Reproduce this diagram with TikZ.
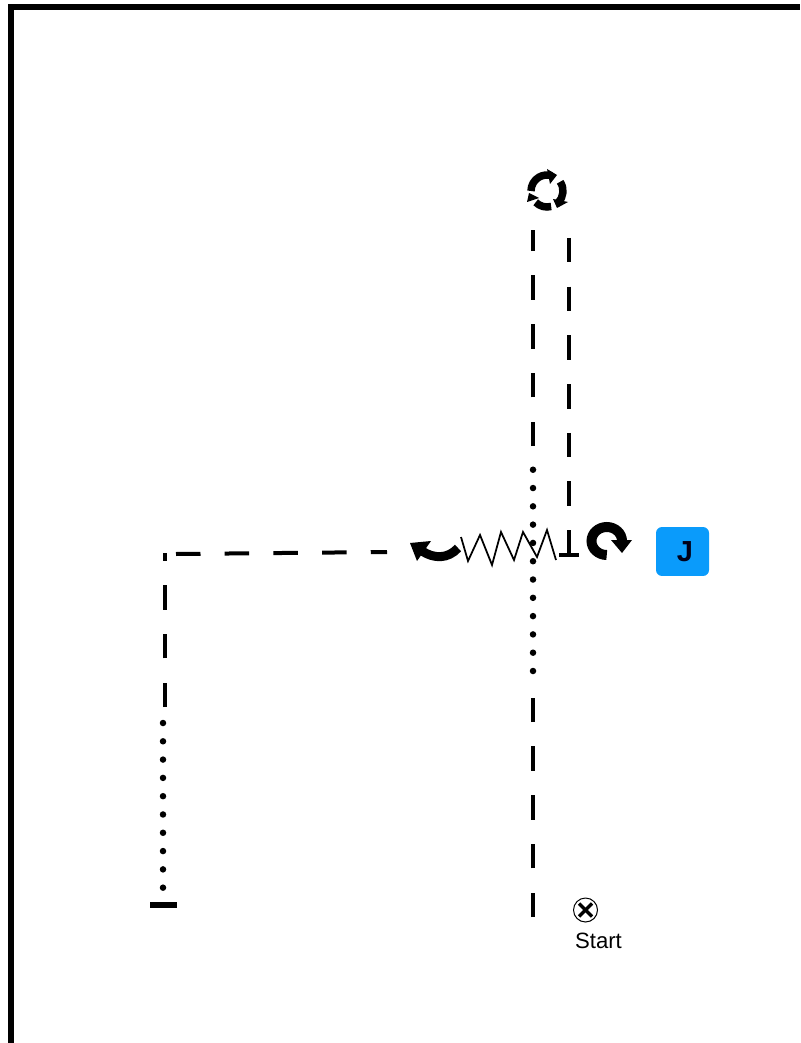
\documentclass[tikz,border=0pt]{standalone}
\usepackage{fontspec}
\setmainfont{Liberation Sans}
\usepackage{xcolor}
\usetikzlibrary{calc}
\definecolor{jumpblue}{HTML}{0A9BFB}
\tikzset{
    walk/.style={line width=0.08cm, dash pattern=on 0.49cm off 0.484cm},
    tiptoe/.style={line width=0.13cm, line cap=round, dash pattern=on 0cm off 0.366cm},
    turn/.style={line width=0.18cm},
    spin/.style={line width=0.15cm},
}
\begin{document}
\begin{tikzpicture}[x=0.02cm, y=-0.02cm, font=\small]
    \useasboundingbox (0, 0) rectangle (800, 1043);

    % Frame
    \draw[line width=0.12cm] (11, 1043) -- (11, 7) -- (800, 7);

    % Named points of the path
    \coordinate (base) at (533, 917);
    \coordinate (stepa) at (533, 697);
    \coordinate (dota) at (533, 671);
    \coordinate (dotb) at (533, 469);
    \coordinate (stepb) at (533, 446);
    \coordinate (top) at (533, 230);
    \coordinate (backtop) at (569, 238);
    \coordinate (backlow) at (569, 506);
    \coordinate (stema) at (569, 530);
    \coordinate (stemb) at (569, 555);
    \coordinate (leftend) at (387, 552);
    \coordinate (cornerb) at (176, 554);
    \coordinate (corner) at (165, 553);
    \coordinate (leftlow) at (165, 707);
    \coordinate (dotc) at (163, 723);
    \coordinate (dotd) at (163, 889);

    % Dashes and dots
    \draw[walk] (base) -- (stepa);
    \draw[tiptoe] (dota) -- (dotb);
    \draw[walk] (stepb) -- (top);
    \draw[walk] (backtop) -- (backlow);
    \draw[line width=0.08cm] (stema) -- (stemb);
    \draw[line width=0.08cm] (559, 555) -- (579, 555);
    \draw[walk] (cornerb) -- (leftend);
    \draw[walk] (leftlow) -- (corner);
    \draw[tiptoe] (dotc) -- (dotd);
    \draw[line width=0.12cm] (150, 905) -- (177, 905);

    % Spring
    \draw[line width=0.035cm] (461, 537) -- (468, 561) -- (480, 535) -- (492, 565) -- (501, 532) -- (514, 560) -- (523, 532) -- (537, 557) -- (547, 530) -- (556, 560);

    % Turns
    \draw[turn] (458, 548) .. controls (448, 559) and (434, 559) .. (422, 551);
    \fill (410, 543) -- (431, 541) -- (417, 561) -- cycle;
    \draw[line width=0.2cm] (606.75, 555) arc (90:360:15.25 and 14);
    \fill (611, 540) -- (632, 540) -- (622, 553) -- cycle;
    \foreach \a/\b in {180/288, 325/405, 75/135}{
        \draw[spin] ($(547, 191)+(\a:16)$) arc (\a:\b:16);
    }
    \fill (547, 169) -- (557, 175) -- (550, 184) -- cycle;
    \fill (553, 199) -- (568, 202) -- (557, 208) -- cycle;
    \fill (527, 202) -- (529, 193) -- (539, 198) -- cycle;

    % Jump key
    \node[fill=jumpblue, rounded corners=0.12cm, minimum width=1.06cm, minimum height=0.98cm, inner sep=0pt] (jump) at (682.5, 551.5) {};
    \node[font=\fontsize{16.5}{18}\selectfont\bfseries, text=black!90!blue] (jumpkey) at (685, 551.5) {J};

    % Start
    \node[draw, circle, line width=0.02cm, minimum size=0.48cm, inner sep=0pt] (mark) at (585.5, 910) {};
    \draw[line width=0.07cm] ($(mark)+(-6.5, -6.5)$) -- ($(mark)+(6.5, 6.5)$);
    \draw[line width=0.07cm] ($(mark)+(6.5, -6.5)$) -- ($(mark)+(-6.5, 6.5)$);
    \node[font=\fontsize{12.6}{14}\selectfont] (start) at (598.5, 941) {Start};
\end{tikzpicture}
\end{document}
